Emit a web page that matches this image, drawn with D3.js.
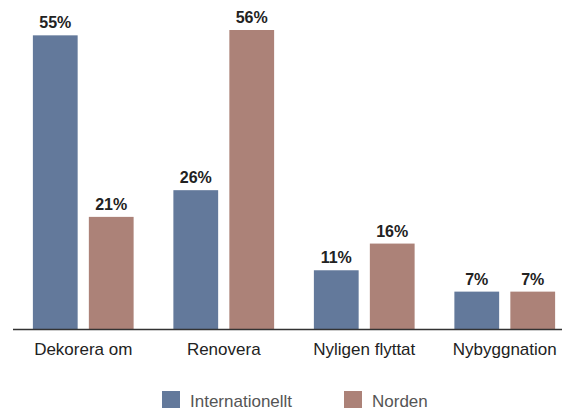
<!DOCTYPE html>
<html><head><meta charset="utf-8">
<script src="https://cdn.jsdelivr.net/npm/d3@7"></script>
<style>body{margin:0;background:#fff}svg{display:block}</style>
</head><body><svg id="c" width="562" height="410"></svg>
<script>
const categories = ["Dekorera om", "Renovera", "Nyligen flyttat", "Nybyggnation"];
const seriesNames = ["Internationellt", "Norden"];
const internationellt = [55, 26, 11, 7];
const norden = [21, 56, 16, 7];
const colors = ["#63799b", "#ac8278"];

const data = categories.map((c, i) => ({cat: c, vals: [internationellt[i], norden[i]]}));
const svg = d3.select("#c");
const baseY = 329;
const y = d3.scaleLinear().domain([0, 56]).range([baseY, 30]);
const x0 = d3.scaleBand().domain(categories).range([13, 575]).paddingInner(0.283).paddingOuter(0.1415);
const x1 = d3.scaleBand().domain(seriesNames).range([0, x0.bandwidth()]).paddingInner(0.2).paddingOuter(0);
const font = "'Liberation Sans', Arial, sans-serif";

const g = svg.selectAll("g.grp").data(data).join("g").attr("class","grp")
  .attr("transform", d => `translate(${x0(d.cat)},0)`);
g.selectAll("rect").data(d => d.vals.map((v, j) => ({v, s: seriesNames[j], j})))
  .join("rect")
  .attr("x", d => x1(d.s)).attr("width", x1.bandwidth())
  .attr("y", d => y(d.v)).attr("height", d => baseY - y(d.v))
  .attr("fill", d => colors[d.j]);
g.selectAll("text.val").data(d => d.vals.map((v, j) => ({v, s: seriesNames[j], j})))
  .join("text").attr("class","val")
  .attr("x", d => x1(d.s) + x1.bandwidth()/2).attr("y", d => y(d.v) - 7)
  .attr("text-anchor","middle").attr("font-family", font).attr("font-weight","bold")
  .attr("font-size", 16).attr("fill","#222").text(d => d.v + "%");

// axis
const axis = svg.append("g").attr("transform", `translate(0,${baseY})`)
  .call(d3.axisBottom(x0).tickSize(0).tickPadding(14));
axis.select(".domain").attr("d", "M13,0.5H562").attr("stroke", "#333").attr("stroke-width", 1.4);
axis.selectAll(".tick text").attr("font-family", font).attr("font-size", 17).attr("fill", "#222");

// legend
const legX = [162, 344];
const leg = svg.selectAll("g.leg").data(seriesNames).join("g").attr("class","leg")
  .attr("transform", (d,i) => `translate(${legX[i]},391)`);
leg.append("rect").attr("width", 18).attr("height", 17).attr("fill", (d,i) => colors[i]);
leg.append("text").attr("x", 28).attr("y", 16).attr("font-family", font).attr("font-size", 17)
  .attr("fill", "#555").text(d => d);
</script></body></html>
